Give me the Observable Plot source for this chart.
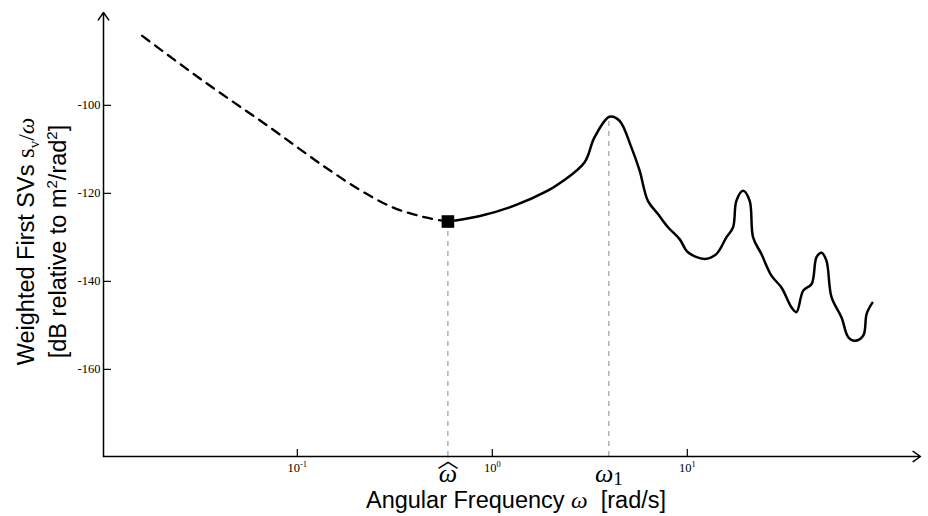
<!DOCTYPE html>
<html><head><meta charset="utf-8">
<script src="https://cdn.jsdelivr.net/npm/d3@7"></script>
<script src="https://cdn.jsdelivr.net/npm/@observablehq/plot@0.6"></script>
<style>body{margin:0;background:#fff} svg{display:block}</style>
</head><body><div id="chart"></div>
<script>
// Dashed (low-frequency) part of the curve: angular frequency [rad/s] and dB
const dashedFreq = [0.016, 0.03453, 0.0702, 0.1428, 0.2036, 0.3018, 0.4474, 0.592];
const dashedDb = [-84.2, -95.1, -104.6, -114.4, -118.9, -123.0, -125.4, -126.4];
// Solid part of the curve
const solidFreq = [0.592, 0.638, 0.875, 1.297, 1.925, 2.254, 2.969, 3.341, 3.99, 4.49, 5.16, 5.69, 6.28, 7.07, 7.96, 9.13, 10.08, 12.27, 14.09, 15.86, 17.17, 17.85, 19.32, 20.89, 21.75, 23.99, 27.01, 30.4, 34.2, 36.3, 39.3, 43.4, 46.0, 48.8, 51.7, 54.9, 61.8, 66.9, 72.3, 79.9, 83.1, 88.8];
const solidDb = [-126.4, -126.2, -125.1, -122.8, -119.4, -117.5, -113.0, -107.3, -102.6, -103.5, -109.5, -114.8, -121.7, -124.7, -127.7, -130.4, -133.4, -134.9, -133.8, -130.0, -127.7, -121.7, -119.4, -121.7, -130.0, -133.8, -138.7, -141.4, -145.9, -147.0, -142.1, -140.6, -134.5, -133.5, -135.3, -143.6, -148.2, -152.7, -153.5, -152.3, -147.4, -144.9];
// Marked frequencies
const markFreq = [0.592, 3.96];
const markDb = [-126.4, -102.6];
const markLabels = ["ω", "ω1"];
const hatLabel = "︿";
// Axes
const xDomain = [0.01014, 157];
const yDomain = [-179.8, -78.9];
const xTicks = [0.1, 1, 10];
const xTickBase = "10";
const xTickExp = ["-1", "0", "1"];
const yTicks = [-100, -120, -140, -160];
const xTitle = "Angular Frequency ω  [rad/s]";
const yTitle1 = "Weighted First SVs sv/ω";
const yTitle2 = "[dB relative to m2/rad2]";

const dashed = dashedFreq.map((f, i) => ({f, db: dashedDb[i]}));
const solid = solidFreq.map((f, i) => ({f, db: solidDb[i]}));
const marks = markFreq.map((f, i) => ({f, db: markDb[i], label: markLabels[i]}));
const axesLines = [
  {x1: xDomain[0], y1: yDomain[0], x2: xDomain[0], y2: yDomain[1]},
  {x1: xDomain[0], y1: yDomain[0], x2: xDomain[1], y2: yDomain[0]}
];
const serif = "'Liberation Serif', 'DejaVu Serif', serif";
const sans = "'Liberation Sans', Arial, sans-serif";

const chart = Plot.plot({
  width: 928, height: 516,
  marginLeft: 103, marginRight: 8, marginTop: 12, marginBottom: 60,
  x: {type: "log", domain: xDomain, label: null},
  y: {domain: yDomain, label: null},
  style: {background: "#fff", color: "#000"},
  marks: [
    Plot.ruleX(marks, {x: "f", y1: () => yDomain[0], y2: "db", stroke: "#8a8a8a", strokeWidth: 1, strokeDasharray: "5,5"}),
    Plot.arrow(axesLines, {x1: "x1", y1: "y1", x2: "x2", y2: "y2", stroke: "#000", strokeWidth: 1.5, headLength: 9, headAngle: 70}),
    Plot.axisY({ticks: yTicks, tickSize: 8, dx: 8, text: null, label: null, strokeWidth: 1.2}),
    Plot.axisY({ticks: yTicks, tickSize: 0, tickPadding: 3, tickFormat: (d) => String(d), label: null, fontFamily: serif, fontSize: 12.5}),
    Plot.axisX({ticks: xTicks, tickSize: 7, dy: -7, text: null, label: null, strokeWidth: 1.2}),
    Plot.axisX({ticks: xTicks, tickSize: 0, tickPadding: 7, tickFormat: (d) => xTickBase + xTickExp[xTicks.indexOf(d)], label: null, fontFamily: serif, fontSize: 12.5}),
    Plot.line(dashed, {x: "f", y: "db", stroke: "#000", strokeWidth: 2.3, strokeDasharray: "9,7", curve: "monotone-x"}),
    Plot.line(solid, {x: "f", y: "db", stroke: "#000", strokeWidth: 2.5, curve: "catmull-rom"}),
    Plot.dot(marks.slice(0, 1), {x: "f", y: "db", symbol: "square", r: 7.1, fill: "#000", stroke: null}),
    Plot.text(marks, {x: "f", text: "label", frameAnchor: "bottom", dy: 17.5, lineAnchor: "middle", fontFamily: serif, fontStyle: "italic", fontSize: 26}),
    Plot.text(marks.slice(0, 1), {x: "f", text: () => hatLabel, frameAnchor: "bottom", dy: 4, lineAnchor: "middle", fontFamily: "'Noto Sans CJK SC', sans-serif", fontSize: 21}),
    Plot.text([xTitle], {text: (d) => d, frameAnchor: "bottom", dx: 4, dy: 44, lineAnchor: "middle", fontFamily: sans, fontSize: 23.5}),
    Plot.text([yTitle1], {text: (d) => d, frameAnchor: "left", textAnchor: "middle", rotate: -90, dx: -77, dy: 7, lineAnchor: "middle", fontFamily: sans, fontSize: 23.5}),
    Plot.text([yTitle2], {text: (d) => d, frameAnchor: "left", textAnchor: "middle", rotate: -90, dx: -45, dy: 7, lineAnchor: "middle", fontFamily: sans, fontSize: 23.5})
  ]
});
document.getElementById("chart").append(chart);

// Rich text formatting (sub/superscripts, math italics)
function richEl(el, parts) {
  const s = d3.select(el);
  s.text(null);
  for (const p of parts) {
    const t = s.append("tspan").text(p.t);
    if (p.dy) t.attr("dy", p.dy);
    if (p.size) t.attr("font-size", p.size);
    if (p.family) t.attr("font-family", p.family);
    if (p.style) t.attr("font-style", p.style);
  }
}
function rich(content, parts) {
  const el = Array.from(chart.querySelectorAll("text")).find((t) => t.textContent === content);
  if (el) richEl(el, parts);
}
rich(xTitle, [{t: "Angular Frequency "}, {t: "ω", family: serif, style: "italic"}, {t: "  [rad/s]"}]);
rich(yTitle1, [{t: "Weighted First SVs "}, {t: "s", family: serif, size: 25}, {t: "v", family: serif, size: 15, dy: 5}, {t: "/", family: serif, dy: -5}, {t: "ω", family: serif, style: "italic"}]);
rich(yTitle2, [{t: "[dB relative to m"}, {t: "2", size: 15, dy: -9}, {t: "/rad", dy: 9}, {t: "2", size: 15, dy: -9}, {t: "]", dy: 9}]);
rich("ω1", [{t: "ω"}, {t: "1", style: "normal", size: 19, dy: 2.5}]);
xTickExp.forEach((e) => rich(xTickBase + e, [{t: xTickBase}, {t: e, size: 8.5, dy: -5}]));
</script>
</body></html>
